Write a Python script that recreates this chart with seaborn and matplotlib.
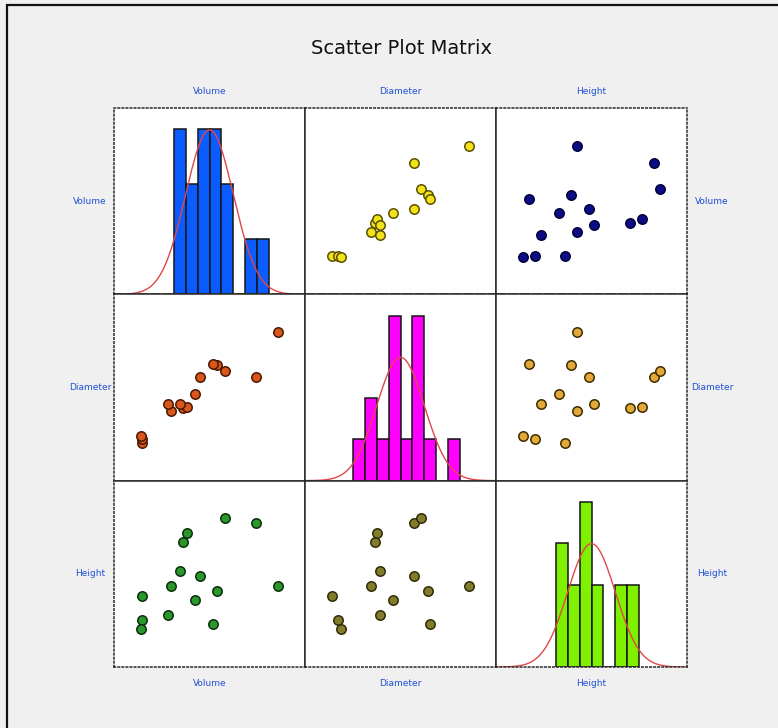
import numpy as np
import pandas as pd
import matplotlib
matplotlib.use("Agg")
import matplotlib.pyplot as plt
import seaborn as sns
from matplotlib.patches import Rectangle

# =========================================
# DATA (15 trees)
# =========================================
volume = [10.3, 10.3, 10.2, 16.4, 18.8, 19.7, 15.6, 18.2, 21.3, 22.2, 33.8, 27.4, 25.7, 24.9, 38.3]
diameter = [8.3, 8.6, 8.8, 10.5, 10.7, 10.8, 11.0, 11.0, 11.7, 12.9, 12.9, 13.3, 13.7, 13.8, 16.0]
height = [70, 65, 63, 72, 81, 83, 66, 75, 69, 74, 85, 86, 71, 64, 72]

names = ["Volume", "Diameter", "Height"]
df = pd.DataFrame({"Volume": volume, "Diameter": diameter, "Height": height})

hist_colors = ["#0a5cff", "#ff00ff", "#7ff000"]
# (row, col) -> (fill, edge)
scatter_colors = {
    (0, 1): ("#f2e21c", "#5a5000"),
    (0, 2): ("#0c0c86", "#00003a"),
    (1, 0): ("#d9561c", "#4a1800"),
    (1, 2): ("#e2a838", "#3e2c00"),
    (2, 0): ("#2b962b", "#0a300a"),
    (2, 1): ("#837c2c", "#302c08"),
}

# =========================================
# FIGURE
# =========================================
sns.set_theme(style="white")
plt.rcParams["font.family"] = ["DejaVu Sans"]

W, H = 778, 728
fig = plt.figure(figsize=(W / 100, H / 100), dpi=100)
fig.patch.set_facecolor("#f0f0f0")
fig.patches.append(Rectangle((7 / W, -0.01), 1.0, 1 - 5 / H + 0.01, transform=fig.transFigure,
                             fill=False, edgecolor="#111111", linewidth=1.6))

left0, top0 = 114, 108
cw, ch = 191, (667 - 108) / 3
label_col = "#1f4fd6"

for r in range(3):
    for c in range(3):
        ax = fig.add_axes([(left0 + c * cw) / W, 1 - (top0 + (r + 1) * ch) / H, cw / W, ch / H])
        ax.set_facecolor("white")
        if r == c:
            # histogram, bins of half a std dev around the mean, plus normal curve
            vals = df[names[r]].to_numpy()
            m, sd = vals.mean(), vals.std(ddof=1)
            bw = sd / 2
            kmin = int(np.floor((vals.min() - m) / bw))
            kmax = int(np.ceil((vals.max() - m) / bw))
            edges = m + np.arange(kmin, kmax + 1) * bw
            counts, _ = np.histogram(vals, bins=edges)
            sns.histplot(x=vals, bins=edges, ax=ax, color=hist_colors[r], alpha=1,
                         edgecolor="#151515", linewidth=1.1)
            xs = np.linspace(m - 4 * sd, m + 4 * sd, 300)
            ys = len(vals) * bw * np.exp(-0.5 * ((xs - m) / sd) ** 2) / (sd * np.sqrt(2 * np.pi))
            sns.lineplot(x=xs, y=ys, ax=ax, color="#e04848", linewidth=1.0)
            ax.set_xlim(m - 4 * sd, m + 4 * sd)
            ax.set_ylim(0, counts.max() * 1.13)
        else:
            xv = df[names[c]]
            yv = df[names[r]]
            fc, ec = scatter_colors[(r, c)]
            sns.scatterplot(x=xv, y=yv, ax=ax, color=fc, edgecolor=ec, linewidth=1.1, s=46)
            xr = xv.max() - xv.min()
            yr = yv.max() - yv.min()
            ax.set_xlim(xv.min() - 0.2 * xr, xv.max() + 0.2 * xr)
            ax.set_ylim(yv.min() - 0.34 * yr, yv.max() + 0.34 * yr)
        ax.set_xticks([])
        ax.set_yticks([])
        ax.set_xlabel("")
        ax.set_ylabel("")
        for side, sp in ax.spines.items():
            sp.set_visible(True)
            sp.set_color("#2a2a2a")
            sp.set_linewidth(1.1)
        if r == 0:
            ax.spines["top"].set_linestyle(":")
            ax.spines["bottom"].set_linestyle((0, (6, 2)))
        if r == 2:
            ax.spines["bottom"].set_linestyle(":")
        if c == 0:
            ax.spines["left"].set_linestyle(":")
        if c == 2:
            ax.spines["right"].set_linestyle(":")

# labels around the matrix
for i, name in enumerate(names):
    cx = (left0 + (i + 0.5) * cw) / W
    cy = 1 - (top0 + (i + 0.5) * ch) / H
    fig.text(cx, 1 - 92 / H, name, ha="center", va="center", fontsize=6.5, color=label_col)
    fig.text(cx, 1 - 684 / H, name, ha="center", va="center", fontsize=6.5, color=label_col)
    fig.text(90 / W, cy, name, ha="center", va="center", fontsize=6.5, color=label_col)
    fig.text(712 / W, cy, name, ha="center", va="center", fontsize=6.5, color=label_col)

fig.text(401 / W, 1 - 49 / H, "Scatter Plot Matrix", ha="center", va="center", fontsize=14, color="#111111")

fig.savefig("out.png", dpi=100, facecolor=fig.get_facecolor())
